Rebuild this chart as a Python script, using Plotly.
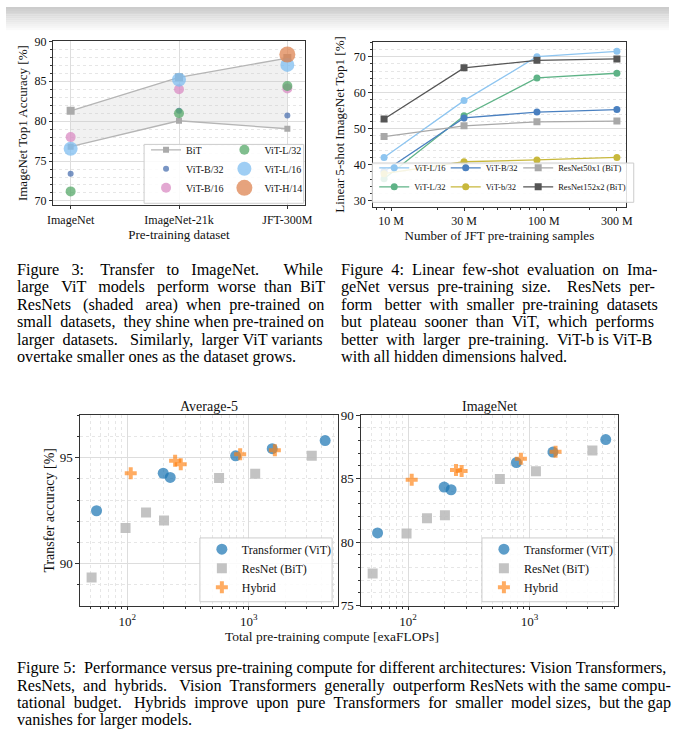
import plotly.graph_objects as go

W, H = 677, 753
FONT = "Liberation Serif"
TXT = "#111111"


def fx(p):
    return p / W


def fy(p):
    return 1 - p / H


# ---------------- Figure 3 data ----------------
datasets = ["ImageNet", "ImageNet-21k", "JFT-300M"]
bit_upper = [81.3, 85.5, 87.9]
bit_lower = [76.8, 80.05, 79.05]
vit_b32 = [73.4, 81.3, 80.7]
vit_b16 = [78.0, 84.0, 84.1]
vit_l32 = [71.2, 81.0, 84.4]
vit_l16 = [76.55, 85.2, 87.05]
h14_datasets = ["JFT-300M"]
vit_h14 = [88.35]

# ---------------- Figure 4 data ----------------
jft_samples = [9, 30, 90, 300]
fs_vit_l16 = [42.0, 57.8, 70.0, 71.5]
fs_vit_l32 = [36.1, 53.6, 64.1, 65.4]
fs_vit_b32 = [38.1, 53.0, 54.6, 55.3]
fs_vit_b32_half = [37.5, 40.8, 41.3, 42.0]
fs_r50x1 = [47.8, 50.8, 51.9, 52.1]
fs_r152x2 = [52.7, 66.9, 69.0, 69.4]
jft_tick_vals = [10, 30, 100, 300]
jft_tick_text = ["10 M", "30 M", "100 M", "300 M"]

# ---------------- Figure 5 data ----------------
vit_compute = [56, 198, 226, 780, 1560, 4250]
vit_avg5 = [92.5, 94.27, 94.07, 95.09, 95.43, 95.81]
vit_inet = [80.72, 84.33, 84.12, 86.26, 87.09, 88.07]
res_compute = [51, 97, 143, 201, 570, 1130, 3300]
res_avg5 = [89.35, 91.68, 92.42, 92.04, 94.04, 94.24, 95.09]
res_inet = [77.53, 80.67, 81.88, 82.11, 84.97, 85.57, 87.22]
hyb_compute = [107, 248, 276, 850, 1640]
hyb_avg5 = [94.27, 94.86, 94.69, 95.17, 95.35]
hyb_inet = [84.9, 85.67, 85.59, 86.57, 87.11]
log_tick_vals = [100, 1000]
log_tick_text = ["10<sup>2</sup>", "10<sup>3</sup>"]

# ---------------- captions ----------------
cap3 = [
    "Figure 3: Transfer to ImageNet. While",
    "large ViT models perform worse than BiT",
    "ResNets (shaded area) when pre-trained on",
    "small datasets, they shine when pre-trained on",
    "larger datasets. Similarly, larger ViT variants",
    "overtake smaller ones as the dataset grows.",
]
cap4 = [
    "Figure 4: Linear few-shot evaluation on Ima-",
    "geNet versus pre-training size. ResNets per-",
    "form better with smaller pre-training datasets",
    "but plateau sooner than ViT, which performs",
    "better with larger pre-training. ViT-b is ViT-B",
    "with all hidden dimensions halved.",
]
cap5 = [
    "Figure 5: Performance versus pre-training compute for different architectures: Vision Transformers,",
    "ResNets, and hybrids. Vision Transformers generally outperform ResNets with the same compu-",
    "tational budget. Hybrids improve upon pure Transformers for smaller model sizes, but the gap",
    "vanishes for larger models.",
]

# Times / Liberation Serif advance widths (1/1000 em), used to justify caption lines
_W = {" ": 250, ".": 250, ",": 250, ":": 278, ";": 278, "-": 333, "(": 333, ")": 333,
      "[": 333, "]": 333, "%": 833, "/": 278, "'": 333}
for _c, _w in zip("abcdefghijklmnopqrstuvwxyz",
                  [444, 500, 444, 500, 444, 333, 500, 500, 278, 278, 500, 278, 778, 500, 500,
                   500, 500, 333, 389, 278, 500, 500, 722, 500, 500, 444]):
    _W[_c] = _w
for _c, _w in zip("ABCDEFGHIJKLMNOPQRSTUVWXYZ",
                  [722, 667, 667, 722, 611, 556, 722, 722, 333, 389, 722, 611, 889, 722, 722,
                   556, 722, 667, 556, 611, 722, 722, 944, 722, 722, 611]):
    _W[_c] = _w
for _c in "0123456789":
    _W[_c] = 500

NB = "\u00a0"
CAP = 16.2


def text_width(s, size):
    return sum(_W.get(c, 500) for c in s) * size / 1000.0


def justify(line, width, size, last=False):
    words = line.split()
    gaps = len(words) - 1
    if last or gaps <= 0:
        return " ".join(words)
    natural = text_width(" ".join(words), size)
    n = int(round((width - natural) / (0.25 * size)))
    if n <= 0:
        return " ".join(words)
    wts = []
    for i in range(gaps):
        ch = words[i][-1]
        wts.append(3.0 if ch == "." else 2.0 if ch == ":" else 1.25 if ch == "," else 1.0)
    tot = sum(wts)
    add = [int(n * w / tot) for w in wts]
    rem = n - sum(add)
    order = sorted(range(gaps), key=lambda i: -(n * wts[i] / tot - add[i]))
    for i in order[:rem]:
        add[i] += 1
    out = words[0]
    for i in range(gaps):
        out += " " + NB * add[i] + words[i + 1]
    return out


fig = go.Figure()

# ======== Figure 3 ========
fig.add_trace(go.Scatter(x=datasets, y=bit_lower, mode="lines", line=dict(width=0),
                         showlegend=False, hoverinfo="skip", xaxis="x", yaxis="y"))
fig.add_trace(go.Scatter(x=datasets, y=bit_upper, mode="lines", line=dict(width=0),
                         fill="tonexty", fillcolor="rgba(200,200,200,0.25)",
                         showlegend=False, hoverinfo="skip", xaxis="x", yaxis="y"))
fig.add_trace(go.Scatter(x=datasets, y=bit_lower, mode="lines+markers", name="BiT",
                         line=dict(color="#b5b5b5", width=1.3),
                         marker=dict(symbol="square", size=6, color="#aaaaaa"),
                         legend="legend", xaxis="x", yaxis="y"))
fig.add_trace(go.Scatter(x=datasets, y=bit_upper, mode="lines+markers", name="BiT",
                         line=dict(color="#b5b5b5", width=1.3),
                         marker=dict(symbol="square", size=8, color="#aaaaaa"),
                         showlegend=False, xaxis="x", yaxis="y"))

vit3 = [
    ("ViT-B/32", datasets, vit_b32, "#4c72b0", 6, "legend"),
    ("ViT-B/16", datasets, vit_b16, "#da8bc3", 10, "legend"),
    ("ViT-L/32", datasets, vit_l32, "#55a868", 10, "legend2"),
    ("ViT-L/16", datasets, vit_l16, "#7fbdf0", 14, "legend2"),
    ("ViT-H/14", h14_datasets, vit_h14, "#dd8452", 16, "legend2"),
]
for name, xs, ys, col, size, lg in vit3:
    fig.add_trace(go.Scatter(x=xs, y=ys, mode="markers", name=name,
                             marker=dict(color=col, size=size, opacity=0.75),
                             legend=lg, xaxis="x", yaxis="y"))

# ======== Figure 4 ========
fs_series = [
    ("ViT-L/16", fs_vit_l16, "#8ec5f0", "circle", "legend3"),
    ("ViT-L/32", fs_vit_l32, "#5fb387", "circle", "legend3"),
    ("ViT-B/32", fs_vit_b32, "#4a80c0", "circle", "legend4"),
    ("ViT-b/32", fs_vit_b32_half, "#c8b83c", "circle", "legend4"),
    ("ResNet50x1 (BiT)", fs_r50x1, "#a8a8a8", "square", "legend5"),
    ("ResNet152x2 (BiT)", fs_r152x2, "#555555", "square", "legend5"),
]
for name, ys, col, sym, lg in fs_series:
    fig.add_trace(go.Scatter(x=jft_samples, y=ys, mode="lines+markers", name=name,
                             line=dict(color=col, width=1.3),
                             marker=dict(color=col, size=7, symbol=sym),
                             legend=lg, xaxis="x2", yaxis="y2"))

# ======== Figure 5 ========
for ax_x, ax_y, lg, vy, ry, hy in [
    ("x3", "y3", "legend6", vit_avg5, res_avg5, hyb_avg5),
    ("x4", "y4", "legend7", vit_inet, res_inet, hyb_inet),
]:
    fig.add_trace(go.Scatter(x=vit_compute, y=vy, mode="markers", name="Transformer (ViT)",
                             marker=dict(color="#1f77b4", size=11, opacity=0.72),
                             legend=lg, xaxis=ax_x, yaxis=ax_y))
    fig.add_trace(go.Scatter(x=res_compute, y=ry, mode="markers", name="ResNet (BiT)",
                             marker=dict(color="#b8b8b8", size=10, symbol="square", opacity=0.85),
                             legend=lg, xaxis=ax_x, yaxis=ax_y))
    fig.add_trace(go.Scatter(x=hyb_compute, y=hy, mode="markers", name="Hybrid",
                             marker=dict(color="#ff7f0e", size=10, symbol="cross", opacity=0.65),
                             legend=lg, xaxis=ax_x, yaxis=ax_y))

# ---------------- axes styling ----------------
GRID = "#dddddd"
MGRID = "#e6e6e6"
LINE = "#333333"


def base_axis(**kw):
    d = dict(showline=True, mirror=True, linecolor=LINE, linewidth=1,
             ticks="outside", ticklen=3.5, tickcolor=LINE, tickwidth=1,
             zeroline=False, gridcolor=GRID, gridwidth=1,
             tickfont=dict(family=FONT, size=12, color=TXT))
    d.update(kw)
    return d


layout = dict(
    width=W, height=H, margin=dict(l=0, r=0, t=0, b=0),
    paper_bgcolor="white", plot_bgcolor="white",
    font=dict(family=FONT, color=TXT),
    xaxis=base_axis(domain=[fx(48.3), fx(305)], type="category", range=[-0.16, 2.16],
                    anchor="y", showgrid=True,
                    title=dict(text="Pre-training dataset", font=dict(size=13), standoff=3)),
    yaxis=base_axis(domain=[fy(201.7), fy(35)], range=[69.5, 90], dtick=5, tick0=0, anchor="x",
                    minor=dict(dtick=1, tick0=0, ticks="outside", ticklen=2, tickcolor=LINE,
                               showgrid=True, gridcolor=MGRID, griddash="dot", gridwidth=1),
                    title=dict(text="ImageNet Top1 Accuracy [%]", font=dict(size=13), standoff=3)),
    xaxis2=base_axis(domain=[fx(374.3), fx(633.3)], type="log", range=[0.879, 2.538],
                     tickvals=jft_tick_vals, ticktext=jft_tick_text, anchor="y2", showgrid=False,
                     minor=dict(tickvals=[8, 9, 20, 40, 50, 60, 70, 80, 90, 200], ticks="outside",
                                ticklen=2, tickcolor=LINE, showgrid=False),
                     title=dict(text="Number of JFT pre-training samples", font=dict(size=13), standoff=3)),
    yaxis2=base_axis(domain=[fy(203.3), fy(36)], range=[28.36, 74.0], dtick=10, tick0=0, anchor="x2",
                     minor=dict(dtick=2, tick0=0, ticks="outside", ticklen=2, tickcolor=LINE,
                                showgrid=True, gridcolor=MGRID, griddash="dot", gridwidth=1),
                     title=dict(text="Linear 5-shot ImageNet Top1 [%]", font=dict(size=13), standoff=6)),
)

minor_log = [50, 60, 70, 80, 90, 200, 300, 400, 500, 600, 700, 800, 900, 2000, 3000, 4000, 5000]
for i, dom, yr, ydt, ttl in [
    (3, [fx(75.3), fx(338.5)], [88.02, 97.02], 5, "Transfer accuracy [%]"),
    (4, [fx(362.3), fx(625)], [74.99, 90.01], 5, None),
]:
    layout[f"xaxis{i}"] = base_axis(domain=dom, type="log", range=[1.61, 3.73],
                                    tickvals=log_tick_vals, ticktext=log_tick_text,
                                    anchor=f"y{i}", showgrid=True,
                                    tickfont=dict(family=FONT, size=13, color=TXT),
                                    minor=dict(tickvals=minor_log, ticks="outside", ticklen=2,
                                               tickcolor=LINE, showgrid=True, gridcolor=MGRID,
                                               griddash="dot", gridwidth=1))
    yd = base_axis(domain=[fy(610), fy(415.7)], range=yr, dtick=ydt, tick0=0, anchor=f"x{i}",
                   tickfont=dict(family=FONT, size=13, color=TXT),
                   minor=dict(dtick=1, tick0=0, ticks="outside", ticklen=2, tickcolor=LINE,
                              showgrid=True, gridcolor=MGRID, griddash="dot", gridwidth=1))
    if ttl:
        yd["title"] = dict(text=ttl, font=dict(size=14), standoff=1)
    layout[f"yaxis{i}"] = yd


def legend_box(x, ybottom, size):
    return dict(x=fx(x), y=fy(ybottom), xanchor="left", yanchor="bottom",
                bgcolor="rgba(0,0,0,0)", borderwidth=0, orientation="v",
                font=dict(family=FONT, size=size, color=TXT), itemsizing="trace",
                tracegroupgap=0, traceorder="normal")


layout["legend"] = legend_box(143, 199, 10)
layout["legend2"] = legend_box(223, 199, 10)
layout["legend3"] = legend_box(376, 198, 8.5)
layout["legend4"] = legend_box(449, 198, 8.5)
layout["legend5"] = legend_box(523, 198, 8.5)
layout["legend6"] = legend_box(200, 606, 12)
layout["legend7"] = legend_box(488, 606, 12)

fig.update_layout(**layout)

# ---------------- shapes: legend frames and top shade ----------------
shapes = []
for (x0, y0, x1, y1) in [(141, 140, 304, 200), (374, 159, 641, 199), (198, 541, 333, 606),
                         (486, 541, 621, 606)]:
    shapes.append(dict(type="rect", xref="paper", yref="paper", layer="above",
                       x0=fx(x0), x1=fx(x1), y0=fy(y1), y1=fy(y0),
                       fillcolor="rgba(255,255,255,0.85)", line=dict(color="#cccccc", width=1)))
n_steps = 13
for k in range(n_steps):
    g = int(204 + (255 - 204) * k / (n_steps - 1))
    shapes.append(dict(type="rect", xref="paper", yref="paper", layer="below",
                       x0=0, x1=1, y0=fy(2 * (k + 1)), y1=fy(2 * k),
                       fillcolor=f"rgb({g},{g},{g})", line=dict(width=0)))
fig.update_layout(shapes=shapes)

# ---------------- annotations: titles and captions ----------------
ann = [
    dict(text="Average-5", x=fx(207), y=fy(407.5), font=dict(size=14)),
    dict(text="ImageNet", x=fx(493.5), y=fy(407.5), font=dict(size=14)),
    dict(text="Total pre-training compute [exaFLOPs]", x=fx(333), y=fy(641.5), font=dict(size=13.5)),
]
for a in ann:
    a.update(xref="paper", yref="paper", showarrow=False, xanchor="center", yanchor="middle",
             borderpad=0)
    a["font"].update(family=FONT, color=TXT)

for lines, x0, x1, ytop, step in [(cap3, 10, 318, 268, 17.8), (cap4, 341, 657, 268, 17.8),
                                  (cap5, 10, 664, 674, 17.6)]:
    for i, line in enumerate(lines):
        txt = justify(line, x1 - x0, CAP, last=(i == len(lines) - 1))
        ann.append(dict(text=txt, x=fx(x0), y=fy(ytop + step * i), xref="paper", yref="paper",
                        showarrow=False, xanchor="left", yanchor="middle", borderpad=0,
                        font=dict(family=FONT, size=CAP, color="#000000")))
fig.update_layout(annotations=ann)

fig.write_html("out.html", config={"displayModeBar": False},
               post_script="document.body.style.margin='0px';document.body.style.padding='0px';")
